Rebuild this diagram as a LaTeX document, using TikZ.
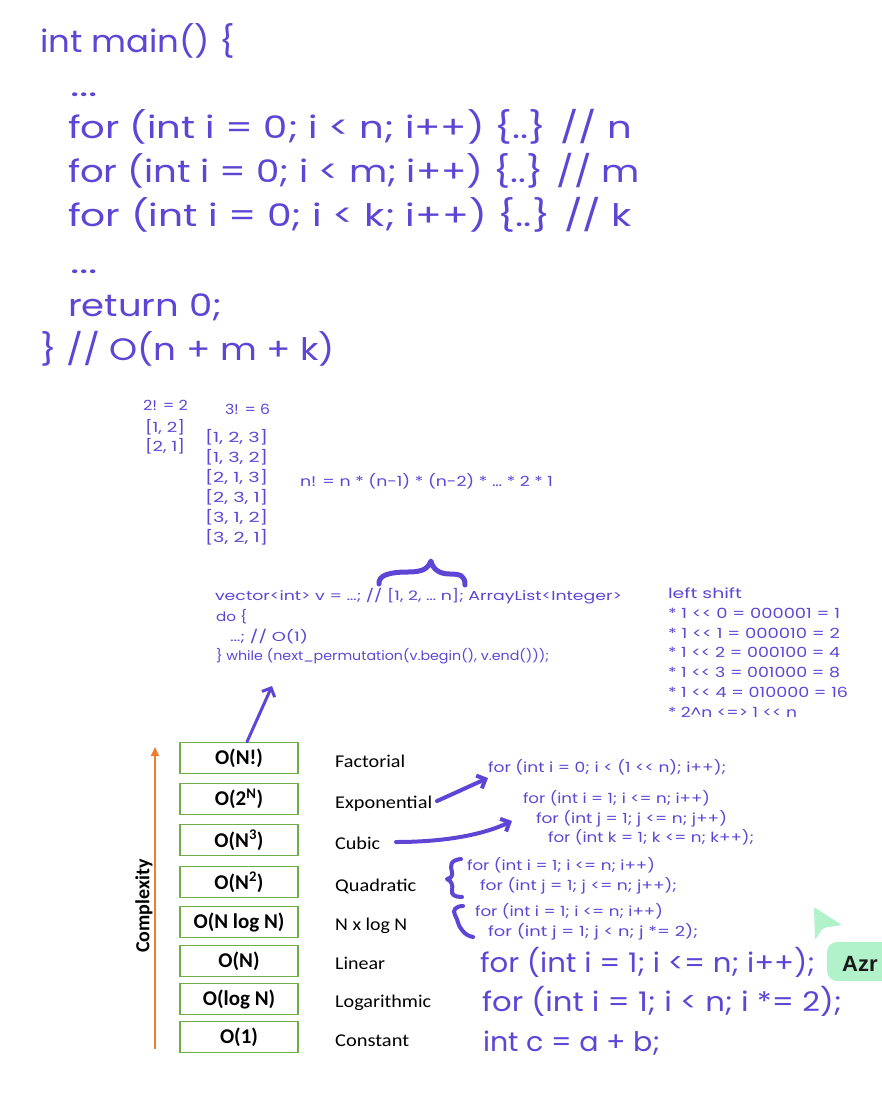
\documentclass[tikz,border=0pt]{standalone}
\usepackage{fontspec}
\setmainfont{Poppins}
\newfontfamily\calfont{Carlito}
\newfontfamily\arialfont{Liberation Sans}
\usetikzlibrary{arrows.meta}
\definecolor{vio}{HTML}{5F45D6}
\definecolor{grn}{HTML}{70AD47}
\definecolor{org}{HTML}{ED7D31}
\definecolor{mint}{HTML}{B2F2CB}
\newcommand\fw[2]{\resizebox{#1pt}{\height}{#2}}
\newcommand\shl{<\kern0pt<}
\begin{document}
\begin{tikzpicture}[x=1pt,y=-1pt,
 code/.style={anchor=base west,inner sep=0pt,outer sep=0pt,text=vio},
 big/.style={code,font=\fontsize{31}{31}\selectfont},
 mid/.style={code,font=\fontsize{27}{27}\selectfont},
 small/.style={code,font=\fontsize{14}{14}\selectfont},
 tiny/.style={code,font=\fontsize{13}{13}\selectfont},
 cbox/.style={draw=grn,line width=1.4pt,minimum width=118pt,minimum height=31pt,inner sep=0pt,font=\calfont\bfseries\fontsize{21}{21}\selectfont},
 clabel/.style={anchor=base west,inner sep=0pt,font=\calfont\fontsize{18}{18}\selectfont},
 hand/.style={draw=vio,line width=4pt,line cap=round,line join=round},
 handarrow/.style={hand,-{Straight Barb[length=7pt,width=14pt]}},
]
\useasboundingbox (0,0) rectangle (882,1102);

% ---- top code ----
\node[big] (l1) at (40,53) {\fw{195}{int main() \{}};
\node[big] (l2) at (70,97) {\fw{28}{...}};
\node[big] (l3) at (68,139) {\fw{564}{for (int i = 0; i < n; i++) \{..\} // n}};
\node[big] (l4) at (68,183) {\fw{572}{for (int i = 0; i < m; i++) \{..\} // m}};
\node[big] (l5) at (68,226) {\fw{564}{for (int i = 0; i < k; i++) \{..\} // k}};
\node[big] (l6) at (70,273) {\fw{28}{...}};
\node[big] (l7) at (68,316) {\fw{154}{return 0;}};
\node[big] (l8) at (40,360) {\fw{295}{\} // O(n + m + k)}};

% ---- permutations ----
\node[small] (p1) at (143,410) {\fw{45}{2! = 2}};
\node[small] (p2) at (225,414) {\fw{45}{3! = 6}};
\node[small] (p3) at (145,432) {\fw{40}{[1, 2]}};
\node[small] (p4) at (145,451) {\fw{40}{[2, 1]}};
\node[small] (q1) at (205,442) {\fw{63}{[1, 2, 3]}};
\node[small] (q2) at (205,462) {\fw{63}{[1, 3, 2]}};
\node[small] (q3) at (205,482) {\fw{63}{[2, 1, 3]}};
\node[small] (q4) at (205,502) {\fw{63}{[2, 3, 1]}};
\node[small] (q5) at (205,522) {\fw{63}{[3, 1, 2]}};
\node[small] (q6) at (205,542) {\fw{63}{[3, 2, 1]}};
\node[small] (nf) at (300,486) {\fw{253}{n! = n * (n-1) * (n-2) * … * 2 * 1}};

% ---- next_permutation ----
\node[tiny] (v1) at (215,600) {\fw{407}{vector<int> v = …; // [1, 2, … n]; ArrayList<Integer>}};
\node[tiny] (v2) at (216,621) {\fw{31}{do \{}};
\node[tiny] (v3) at (230,641) {\fw{78}{…; // O(1)}};
\node[tiny] (v4) at (216,660) {\fw{333}{\} while (next\_permutation(v.begin(), v.end()));}};
\draw[hand,line width=5pt] (379,584) .. controls (378,575) and (390,572) .. (408,572)
  .. controls (424,572) and (428,568) .. (431,561)
  .. controls (433,570) and (440,574) .. (450,574)
  .. controls (461,574) and (465,576) .. (465,585);

% ---- left shift ----
\node[small] (s0) at (668,598) {\fw{74}{left shift}};
\node[small] (s1) at (668,618) {\fw{172}{* 1 \shl{} 0 = 000001 = 1}};
\node[small] (s2) at (668,638) {\fw{172}{* 1 \shl{} 1 = 000010 = 2}};
\node[small] (s3) at (668,657) {\fw{172}{* 1 \shl{} 2 = 000100 = 4}};
\node[small] (s4) at (668,677) {\fw{172}{* 1 \shl{} 3 = 001000 = 8}};
\node[small] (s5) at (668,697) {\fw{180}{* 1 \shl{} 4 = 010000 = 16}};
\node[small] (s6) at (668,717) {\fw{129}{* 2\textasciicircum n <=> 1 \shl{} n}};

% ---- complexity table ----
\coordinate (ob) at (155,1049);
\coordinate (ot) at (155,747);
\draw[org,line width=2pt,-{Triangle[length=9pt,width=8pt]}] (ob) -- (ot);
\node[rotate=90,inner sep=0pt,font=\calfont\bfseries\fontsize{20}{20}\selectfont] (cx) at (144,906) {Complexity};

\node[cbox] (b1) at (239,758) {O(N!)};
\node[cbox] (b2) at (239,799) {O(2\textsuperscript{N})};
\node[cbox] (b3) at (239,840) {O(N\textsuperscript{3})};
\node[cbox] (b4) at (239,882) {O(N\textsuperscript{2})};
\node[cbox] (b5) at (239,922) {O(N log N)};
\node[cbox] (b6) at (239,961) {O(N)};
\node[cbox] (b7) at (239,999) {O(log N)};
\node[cbox] (b8) at (239,1037) {O(1)};

\node[clabel] (t1) at (335,767) {\fw{70}{Factorial}};
\node[clabel] (t2) at (335,808) {\fw{97}{Exponential}};
\node[clabel] (t3) at (335,849) {\fw{45}{Cubic}};
\node[clabel] (t4) at (335,891) {\fw{81}{Quadratic}};
\node[clabel] (t5) at (335,930) {\fw{72}{N x log N}};
\node[clabel] (t6) at (335,969) {\fw{50}{Linear}};
\node[clabel] (t7) at (335,1007) {\fw{96}{Logarithmic}};
\node[clabel] (t8) at (335,1046) {\fw{74}{Constant}};

% ---- right code ----
\node[small] (e1) at (488,772) {\fw{238}{for (int i = 0; i < (1 \shl{} n); i++);}};
\node[small] (c1) at (523,803) {\fw{187}{for (int i = 1; i <= n; i++)}};
\node[small] (c2) at (536,823) {\fw{191}{for (int j = 1; j <= n; j++)}};
\node[small] (c3) at (548,842) {\fw{206}{for (int k = 1; k <= n; k++);}};
\node[small] (d1) at (467,870) {\fw{188}{for (int i = 1; i <= n; i++)}};
\node[small] (d2) at (480,890) {\fw{197}{for (int j = 1; j <= n; j++);}};
\node[small] (g1) at (475,916) {\fw{188}{for (int i = 1; i <= n; i++)}};
\node[small] (g2) at (488,936) {\fw{210}{for (int j = 1; j < n; j *= 2);}};
\node[mid] (h1) at (480,972) {\fw{335}{for (int i = 1; i <= n; i++);}};
\node[mid] (h2) at (482,1011) {\fw{360}{for (int i = 1; i < n; i *= 2);}};
\node[mid] (h3) at (483,1051) {\fw{177}{int c = a + b;}};

% braces
\draw[hand] (461,859) .. controls (450,860) and (450,866) .. (452,872)
  .. controls (453,876) and (451,878) .. (447,879)
  .. controls (452,881) and (453,886) .. (452,890)
  .. controls (451,895) and (455,897) .. (462,897);
\draw[hand] (463,906) .. controls (456,906) and (452,910) .. (455,915)
  .. controls (458,920) and (458,926) .. (462,930)
  .. controls (465,934) and (468,936) .. (473,937);

% purple arrows
\coordinate (a1e) at (272,686);
\draw[handarrow,line width=3pt] ([xshift=8pt]b1.north) -- (a1e);
\coordinate (a2s) at (437,801);
\coordinate (a2e) at (488,778);
\draw[handarrow] (a2s) .. controls (455,793) and (470,786) .. (a2e);
\coordinate (a3s) at (396,842);
\coordinate (a3e) at (512,821);
\draw[handarrow] (a3s) .. controls (440,842) and (480,836) .. (a3e);

% collaborator cursor
\fill[mint,rounded corners=2pt] (814,907) -- (842,925) -- (823,928) -- (815,940) -- cycle;
\fill[mint,rounded corners=10pt] (827,942) rectangle (900,981);
\node[anchor=base west,inner sep=0pt,font=\arialfont\bfseries\fontsize{22}{22}\selectfont,text=black!90] (az) at (842,971) {Azr};
\end{tikzpicture}
\end{document}
